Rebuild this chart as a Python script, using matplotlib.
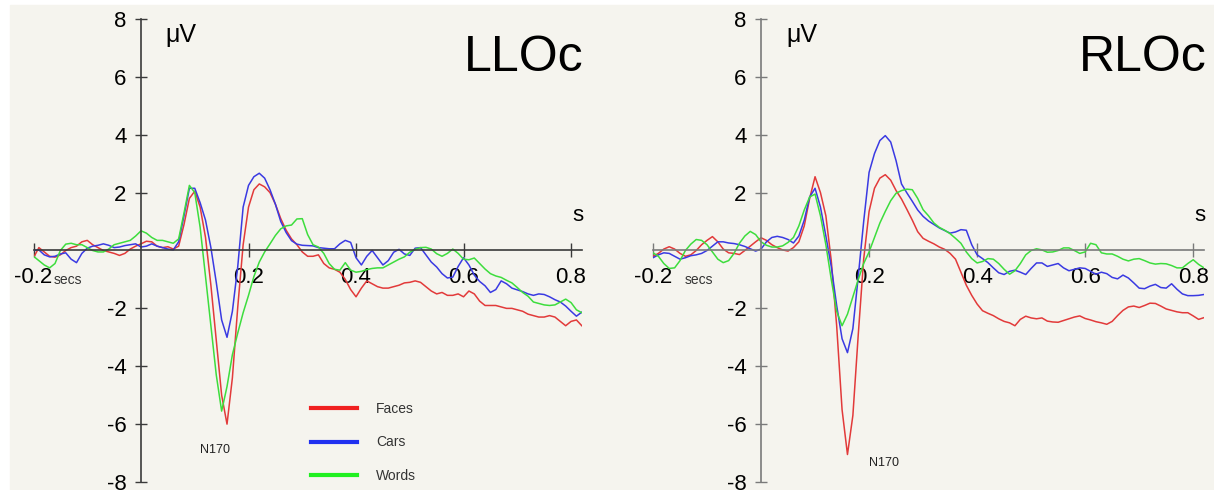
#!/usr/bin/env python3
"""ERP waveforms at LLOc / RLOc for faces, cars and words."""

import matplotlib
matplotlib.use("Agg")
import matplotlib.pyplot as plt
import numpy as np
from matplotlib.lines import Line2D
from matplotlib.patches import Rectangle

# sampling grid: -0.20 .. 0.82 s, 10 ms steps
TIMES = np.round(np.arange(-0.20, 0.8251, 0.01), 2)

CONDITIONS = ["Faces", "Cars", "Words"]
LINE_COLORS = ["#e23a3a", "#3a3ae2", "#3ddd3d"]
LEGEND_COLORS = ["#f02020", "#2030f0", "#20f020"]

# LLOc (left lateral occipital), microvolts
LLOC_FACES = [
    -0.25, 0.1, -0.05, -0.2, -0.23, -0.15, 0.0, 0.1, 0.15, 0.3,
    0.35, 0.2, 0.1, 0.0, -0.05, -0.1, -0.17, -0.1, 0.05, 0.15,
    0.23, 0.32, 0.3, 0.15, 0.1, 0.13, 0.05, 0.15, 0.9, 1.8,
    2.05, 1.5, 0.45, -1.2, -3.1, -5.0, -6.0, -4.4, -1.95, 0.2,
    1.5, 2.1, 2.3, 2.2, 2.0, 1.6, 1.1, 0.7, 0.4, 0.2,
    -0.05, -0.2, -0.2, -0.15, -0.45, -0.6, -0.65, -0.75, -1.0, -1.35,
    -1.6, -1.3, -1.05, -1.15, -1.25, -1.3, -1.3, -1.25, -1.2, -1.12,
    -1.1, -1.05, -1.1, -1.25, -1.4, -1.5, -1.45, -1.55, -1.55, -1.5,
    -1.6, -1.4, -1.5, -1.75, -1.9, -1.9, -1.9, -1.95, -2.0, -2.0,
    -2.05, -2.1, -2.2, -2.25, -2.3, -2.3, -2.25, -2.3, -2.45, -2.6,
    -2.45, -2.4, -2.6,
]
LLOC_CARS = [
    0.0, 0.02, -0.15, -0.22, -0.2, -0.12, -0.08, -0.3, -0.42, -0.1,
    0.08, 0.15, 0.18, 0.23, 0.18, 0.1, 0.12, 0.17, 0.2, 0.23,
    0.12, 0.15, 0.23, 0.15, 0.1, 0.05, 0.02, 0.3, 1.2, 2.15,
    2.15, 1.65, 1.05, 0.1, -1.1, -2.4, -3.0, -2.1, -0.55, 1.5,
    2.25, 2.55, 2.67, 2.5, 2.1, 1.6, 1.0, 0.62, 0.34, 0.22,
    0.18, 0.17, 0.16, 0.1, 0.08, 0.06, 0.06, 0.23, 0.35, 0.28,
    -0.25, -0.5, -0.2, 0.0, -0.25, -0.5, -0.35, -0.06, 0.04, -0.12,
    -0.17, 0.08, 0.1, -0.15, -0.4, -0.57, -0.8, -0.95, -0.92, -0.55,
    -0.25, -0.5, -0.85, -1.07, -1.22, -1.45, -1.35, -1.05, -1.15, -1.3,
    -1.36, -1.42, -1.5, -1.55, -1.5, -1.52, -1.6, -1.7, -1.78, -1.92,
    -2.1, -2.27, -2.13,
]
LLOC_WORDS = [
    -0.2, -0.35, -0.5, -0.6, -0.45, 0.0, 0.22, 0.25, 0.2, 0.2,
    0.1, 0.0, -0.05, -0.05, 0.05, 0.2, 0.25, 0.3, 0.35, 0.5,
    0.68, 0.6, 0.45, 0.35, 0.35, 0.3, 0.25, 0.4, 1.3, 2.25,
    2.0, 0.8, -0.9, -2.6, -4.3, -5.55, -4.7, -3.6, -2.85, -2.15,
    -1.55, -0.9, -0.4, -0.05, 0.23, 0.52, 0.75, 0.85, 0.88, 1.09,
    1.1, 0.55, 0.2, 0.12, -0.1, -0.45, -0.65, -0.68, -0.42, -0.68,
    -0.75, -0.72, -0.66, -0.62, -0.6, -0.6, -0.5, -0.4, -0.3, -0.22,
    -0.06, 0.04, 0.1, 0.11, 0.05, -0.11, -0.2, -0.1, 0.05, -0.1,
    -0.3, -0.32, -0.26, -0.45, -0.64, -0.8, -0.88, -0.93, -1.03, -1.12,
    -1.28, -1.45, -1.58, -1.78, -1.83, -1.88, -1.9, -1.88, -1.78, -1.68,
    -1.8, -2.05, -2.15,
]

# RLOc (right lateral occipital), microvolts
RLOC_FACES = [
    -0.2, -0.1, 0.05, 0.13, 0.05, -0.1, -0.2, -0.15, 0.0, 0.2,
    0.35, 0.48, 0.3, 0.05, -0.08, -0.1, -0.14, 0.0, 0.15, 0.3,
    0.44, 0.35, 0.2, 0.1, 0.02, -0.02, 0.1, 0.3, 0.85, 1.8,
    2.55, 2.0, 1.2, -0.35, -2.6, -5.5, -7.05, -5.7, -2.9, -0.3,
    1.35, 2.15, 2.5, 2.62, 2.43, 2.07, 1.78, 1.42, 1.05, 0.65,
    0.42, 0.32, 0.23, 0.12, 0.04, -0.1, -0.3, -0.75, -1.2, -1.55,
    -1.85, -2.08, -2.17, -2.25, -2.36, -2.45, -2.5, -2.6, -2.38, -2.27,
    -2.33, -2.36, -2.33, -2.44, -2.47, -2.48, -2.42, -2.36, -2.3, -2.26,
    -2.35, -2.4, -2.46, -2.5, -2.55, -2.45, -2.25, -2.07, -1.95, -1.92,
    -1.97, -1.9, -1.82, -1.83, -1.92, -2.02, -2.07, -2.12, -2.15, -2.15,
    -2.26, -2.38, -2.32,
]
RLOC_CARS = [
    -0.25, -0.15, -0.08, -0.1, -0.2, -0.3, -0.25, -0.18, -0.15, -0.1,
    0.0, 0.15, 0.3, 0.3, 0.26, 0.24, 0.2, 0.14, 0.06, -0.02,
    0.05, 0.3, 0.45, 0.49, 0.45, 0.38, 0.26, 0.5, 1.05, 1.85,
    2.15, 1.5, 0.5, -0.55, -1.9, -3.05, -3.53, -2.7, -0.89, 1.0,
    2.7, 3.35, 3.8, 3.97, 3.75, 3.1, 2.3, 1.99, 1.7, 1.4,
    1.18, 1.02, 0.9, 0.78, 0.69, 0.6, 0.64, 0.72, 0.7, 0.2,
    -0.15, -0.28, -0.42, -0.6, -0.77, -0.83, -0.72, -0.68, -0.75, -0.83,
    -0.62, -0.43, -0.43, -0.55, -0.5, -0.45, -0.6, -0.7, -0.65, -0.6,
    -0.62, -0.72, -0.82, -0.75, -0.8, -0.93, -0.98, -0.85, -0.95, -1.12,
    -1.3, -1.32, -1.23, -1.17, -1.28, -1.3, -1.15, -1.34, -1.5, -1.56,
    -1.56, -1.55, -1.52,
]
RLOC_WORDS = [
    -0.08, -0.2, -0.45, -0.62, -0.6, -0.35, 0.0, 0.22, 0.38, 0.35,
    0.2, -0.05, -0.3, -0.42, -0.35, -0.1, 0.25, 0.5, 0.66, 0.55,
    0.3, 0.18, 0.12, 0.12, 0.16, 0.28, 0.45, 0.85, 1.4, 1.85,
    1.95, 1.2, 0.2, -1.0, -2.1, -2.6, -2.2, -1.6, -1.0, -0.45,
    -0.05, 0.45, 0.95, 1.35, 1.72, 1.98, 2.07, 2.12, 2.1, 1.8,
    1.41, 1.2, 0.95, 0.8, 0.7, 0.58, 0.42, 0.25, -0.05, -0.28,
    -0.43, -0.38, -0.28, -0.3, -0.45, -0.65, -0.82, -0.7, -0.45, -0.15,
    0.0, 0.06, 0.02, -0.06, -0.05, 0.0, 0.09, 0.09, 0.0, -0.1,
    -0.05, 0.25, 0.2, -0.08, -0.12, -0.12, -0.2, -0.3, -0.36, -0.3,
    -0.28, -0.35, -0.43, -0.47, -0.45, -0.46, -0.52, -0.6, -0.6, -0.45,
    -0.32, -0.48, -0.6,
]

X_TICKS = [-0.2, 0.2, 0.4, 0.6, 0.8]
X_TICK_LABELS = ["-0.2", "0.2", "0.4", "0.6", "0.8"]
Y_TICKS = [-8, -6, -4, -2, 2, 4, 6, 8]
Y_TICK_LABELS = ["-8", "-6", "-4", "-2", "2", "4", "6", "8"]

W, H = 1214, 490
BG = "#f5f4ee"


def px_rect(left, right, top, bottom):
    """Figure-fraction rect from pixel edges (top/bottom measured from top)."""
    return [left / W, (H - bottom) / H, (right - left) / W, (bottom - top) / H]


def draw_panel(ax, series, title, n170_pos, secs_x, axis_color):
    for values, color in zip(series, LINE_COLORS):
        assert len(values) == len(TIMES)
        ax.plot(TIMES, values, color=color, lw=1.1, solid_joinstyle="round")

    ax.set_xlim(-0.2, 0.82)
    ax.set_ylim(-8, 8)
    ax.patch.set_visible(False)
    for side in ("top", "right"):
        ax.spines[side].set_visible(False)
    ax.spines["left"].set_position(("data", 0))
    ax.spines["bottom"].set_position(("data", 0))
    for side in ("left", "bottom"):
        ax.spines[side].set_color(axis_color)
        ax.spines[side].set_linewidth(1.2)

    ax.set_xticks(X_TICKS, X_TICK_LABELS)
    ax.set_yticks(Y_TICKS, Y_TICK_LABELS)
    ax.tick_params(axis="x", direction="inout", length=10, width=1.0,
                   color=axis_color, pad=7, labelsize=16)
    ax.tick_params(axis="y", direction="inout", length=9, width=1.0,
                   color=axis_color, pad=6, labelsize=16)

    ax.text(0.046, 7.45, "μV", fontsize=18, ha="left", va="center")
    ax.text(0.813, 1.2, "s", fontsize=16, ha="center", va="center")
    ax.text(0.824, 6.65, title, fontsize=36, ha="right", va="center")
    ax.text(secs_x, -1.15, "secs", fontsize=10, ha="left", va="baseline",
            color="#333333")
    ax.text(n170_pos[0], n170_pos[1], "N170", fontsize=9, ha="center",
            va="center", color="#222222")


def main():
    plt.rcParams["font.family"] = ["Liberation Sans", "DejaVu Sans"]
    fig = plt.figure(figsize=(W / 100, H / 100), dpi=100, facecolor="white")
    fig.add_artist(Rectangle((10 / W, 0), 1, (H - 5) / H,
                             transform=fig.transFigure, color=BG, zorder=-10))

    ax_l = fig.add_axes(px_rect(33.5, 581.8, 19, 482))
    ax_r = fig.add_axes(px_rect(653, 1204, 19, 482))

    draw_panel(ax_l, [LLOC_FACES, LLOC_CARS, LLOC_WORDS], "LLOc",
               (0.138, -6.9), -0.162, "#3a3a3a")
    draw_panel(ax_r, [RLOC_FACES, RLOC_CARS, RLOC_WORDS], "RLOc",
               (0.228, -7.34), -0.141, "#7a7a7a")

    handles = [Line2D([], [], color=c, lw=3) for c in LEGEND_COLORS]
    leg = ax_l.legend(handles, CONDITIONS, loc="upper left",
                      bbox_to_anchor=(311 / W, (H - 402) / H),
                      bbox_transform=fig.transFigure, frameon=False,
                      fontsize=10, handlelength=3.3, handletextpad=1.4,
                      labelspacing=1.4, borderpad=0, borderaxespad=0)
    for txt in leg.get_texts():
        txt.set_color("#333333")

    fig.savefig("out.png", dpi=100, facecolor="white")


if __name__ == "__main__":
    main()
